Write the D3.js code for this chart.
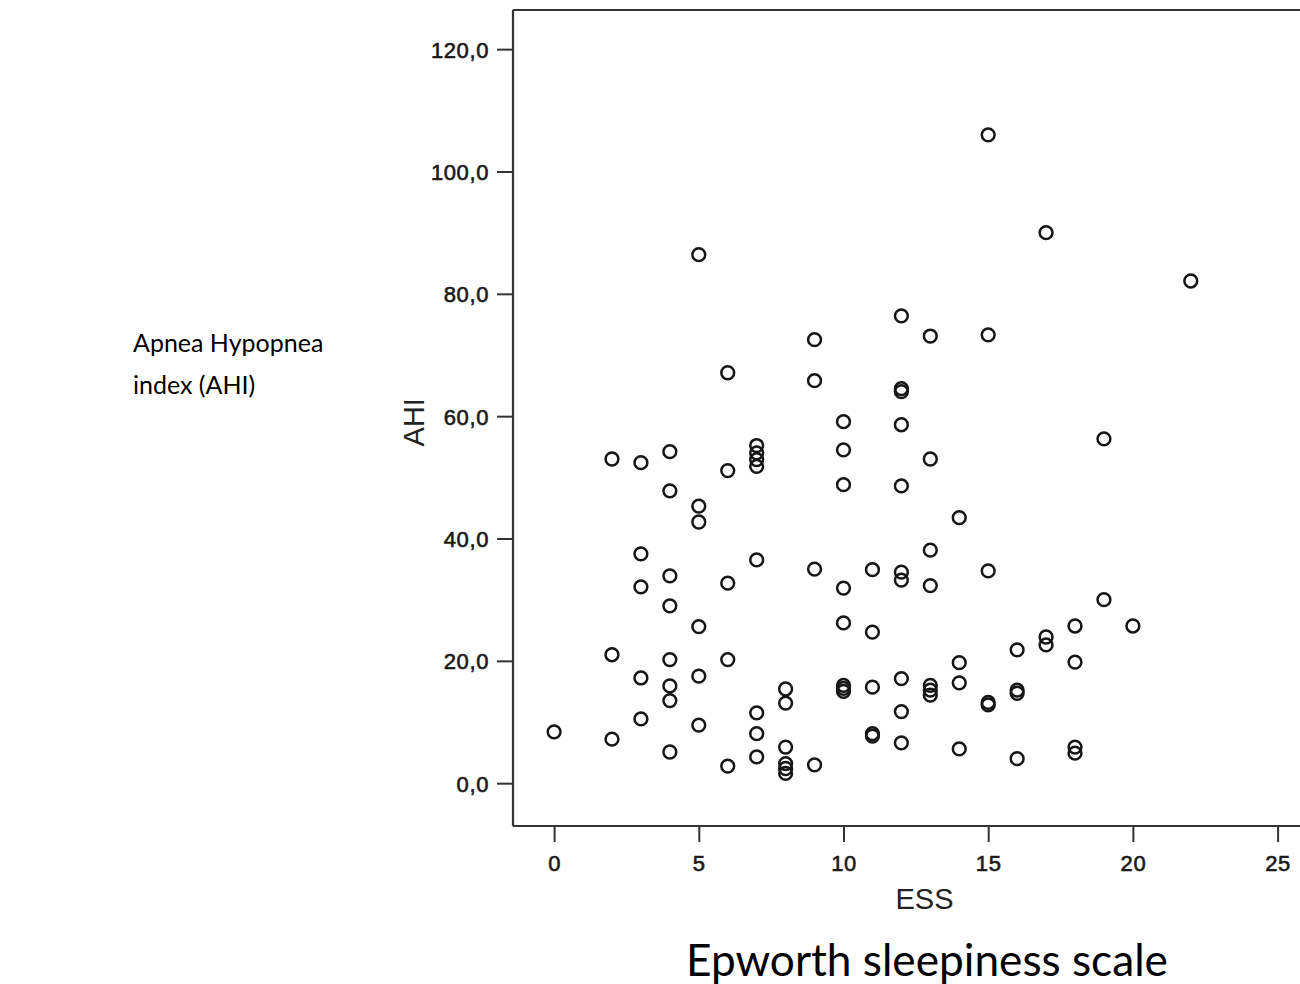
<!DOCTYPE html>
<html>
<head>
<meta charset="utf-8">
<script src="https://cdn.jsdelivr.net/npm/d3@7"></script>
<style>
  html, body { margin: 0; padding: 0; background: #fff; }
  svg { display: block; }
</style>
</head>
<body>
<svg id="chart" width="1300" height="984"></svg>
<script>
// ---- data ----
const essValues = [
  0,
  2, 2, 2,
  3, 3, 3, 3, 3,
  4, 4, 4, 4, 4, 4, 4, 4,
  5, 5, 5, 5, 5, 5,
  6, 6, 6, 6, 6,
  7, 7, 7, 7, 7, 7, 7, 7,
  8, 8, 8, 8, 8, 8,
  9, 9, 9, 9,
  10, 10, 10, 10, 10, 10, 10, 10,
  11, 11, 11, 11, 11,
  12, 12, 12, 12, 12, 12, 12, 12, 12, 12,
  13, 13, 13, 13, 13, 13, 13,
  14, 14, 14, 14,
  15, 15, 15, 15, 15,
  16, 16, 16, 16,
  17, 17, 17,
  18, 18, 18, 18,
  19, 19,
  20,
  22
];
const ahiValues = [
  8.4,
  53.0, 21.0, 7.2,
  52.4, 37.5, 32.1, 17.2, 10.5,
  54.2, 47.8, 33.9, 29.0, 20.2, 15.9, 13.5, 5.1,
  86.4, 45.3, 42.7, 25.6, 17.5, 9.5,
  67.1, 51.1, 32.7, 20.2, 2.8,
  55.2, 54.0, 52.9, 51.8, 36.5, 11.5, 8.1, 4.3,
  15.4, 13.1, 5.9, 3.2, 2.4, 1.6,
  72.5, 65.8, 35.0, 3.0,
  59.1, 54.5, 48.8, 31.9, 26.2, 16.0, 15.5, 15.0,
  34.9, 24.7, 15.7, 8.1, 7.7,
  76.4, 64.5, 64.0, 58.6, 48.6, 34.5, 33.2, 17.1, 11.7, 6.6,
  73.1, 53.0, 38.1, 32.3, 16.0, 15.2, 14.4,
  43.4, 19.7, 16.4, 5.6,
  106.0, 73.3, 34.7, 13.2, 12.8,
  21.8, 15.2, 14.7, 4.0,
  90.0, 23.9, 22.6,
  25.7, 19.8, 5.9, 4.9,
  56.3, 30.0,
  25.7,
  82.1
];
const xTicks = [0, 5, 10, 15, 20, 25];
const yTicks = [0, 20, 40, 60, 80, 100, 120];
const xTickLabels = ["0", "5", "10", "15", "20", "25"];
const yTickLabels = ["0,0", "20,0", "40,0", "60,0", "80,0", "100,0", "120,0"];
const xTitle = "ESS";
const yTitle = "AHI";
const leftNote = ["Apnea Hypopnea", "index (AHI)"];
const bottomNote = "Epworth sleepiness scale";

const points = essValues.map((e, i) => ({ ess: e, ahi: ahiValues[i] }));

// ---- layout ----
const svg = d3.select("#chart");
const frameL = 513, frameT = 10, frameB = 826, frameR = 1321;
const x = d3.scaleLinear().domain([-1.42, 26.5]).range([frameL, frameR]);
const y = d3.scaleLinear().domain([-7, 126.4]).range([frameB, frameT]);

const ink = "#1a1a1a";
const axisFont = "'Liberation Sans', Arial, Helvetica, sans-serif";

// frame (left, top, bottom)
const frame = svg.append("g");
frame.append("line").attr("x1", frameL).attr("x2", frameL).attr("y1", frameT).attr("y2", frameB)
  .attr("stroke", "#333").attr("stroke-width", 2.2);
frame.append("line").attr("x1", frameL).attr("x2", 1330).attr("y1", frameT).attr("y2", frameT)
  .attr("stroke", "#333").attr("stroke-width", 2.2);
frame.append("line").attr("x1", frameL).attr("x2", 1330).attr("y1", frameB).attr("y2", frameB)
  .attr("stroke", "#333").attr("stroke-width", 2.2);

// axes
const yAxis = d3.axisLeft(y).tickValues(yTicks)
  .tickFormat((d, i) => yTickLabels[i]).tickSize(15).tickPadding(8);
const gy = svg.append("g").attr("transform", `translate(${frameL - 1},0)`).call(yAxis);
gy.select(".domain").remove();
gy.selectAll(".tick line").attr("stroke", "#333").attr("stroke-width", 2);
gy.selectAll(".tick text")
  .attr("font-family", axisFont).attr("font-size", 22).attr("fill", ink)
  .attr("stroke", ink).attr("stroke-width", 0.6)
  .attr("letter-spacing", "0.6px").attr("dy", "0.36em");

const xAxis = d3.axisBottom(x).tickValues(xTicks)
  .tickFormat((d, i) => xTickLabels[i]).tickSize(15).tickPadding(13);
const gx = svg.append("g").attr("transform", `translate(0,${frameB + 1})`).call(xAxis);
gx.select(".domain").remove();
gx.selectAll(".tick line").attr("stroke", "#333").attr("stroke-width", 2);
gx.selectAll(".tick text")
  .attr("font-family", axisFont).attr("font-size", 22).attr("fill", ink)
  .attr("stroke", ink).attr("stroke-width", 0.6)
  .attr("letter-spacing", "0.6px");

// axis titles
svg.append("text")
  .attr("transform", `translate(424,${y(59)}) rotate(-90)`)
  .attr("text-anchor", "middle")
  .attr("font-family", axisFont).attr("font-size", 29).attr("fill", "#222")
  .text(yTitle);
svg.append("text")
  .attr("x", x(12.8)).attr("y", 909)
  .attr("text-anchor", "middle")
  .attr("font-family", axisFont).attr("font-size", 29).attr("fill", "#222")
  .text(xTitle);

// points
svg.append("g").selectAll("circle").data(points).join("circle")
  .attr("cx", d => x(d.ess))
  .attr("cy", d => y(d.ahi))
  .attr("r", 6.4)
  .attr("fill", "none")
  .attr("stroke", "#161616")
  .attr("stroke-width", 2.5);

// annotations
const noteFont = "Lato, 'Open Sans', 'Noto Sans', sans-serif";
svg.append("text").attr("x", 133).attr("y", 352)
  .attr("font-family", noteFont).attr("font-size", 25).attr("fill", "#000").text(leftNote[0]);
svg.append("text").attr("x", 133).attr("y", 394)
  .attr("font-family", noteFont).attr("font-size", 25).attr("fill", "#000").text(leftNote[1]);

const n3 = svg.append("text").attr("x", 927).attr("y", 976)
  .attr("text-anchor", "middle")
  .attr("font-family", noteFont).attr("font-size", 30).attr("fill", "#000").text(bottomNote);
const w3 = n3.node().getComputedTextLength();
n3.attr("font-size", 30 * 482 / w3);
</script>
</body>
</html>
